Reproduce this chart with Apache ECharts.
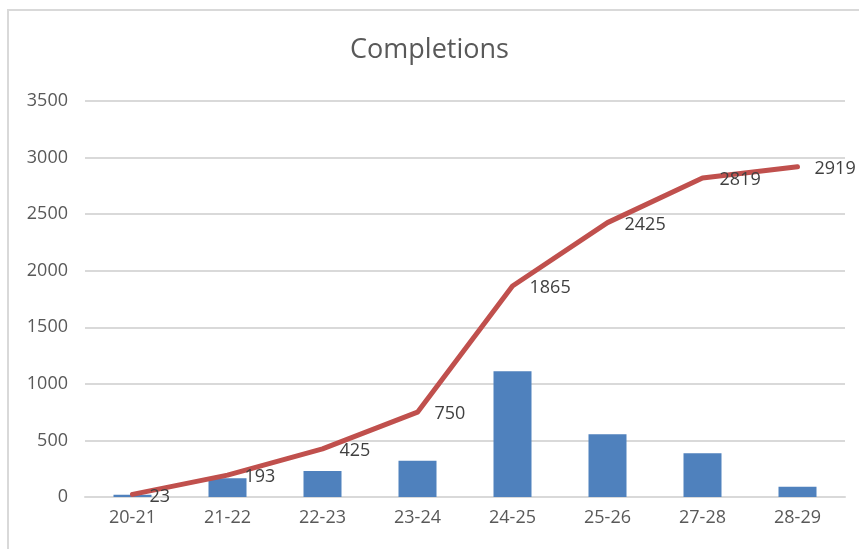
<!DOCTYPE html>
<html>
<head>
<meta charset="utf-8">
<script src="https://cdn.jsdelivr.net/npm/echarts@6/dist/echarts.min.js"></script>
<style>
    html, body {margin: 0; padding: 0; background: #fff;}
    #chart {width: 859px; height: 549px;}
</style>
</head>
<body>
<div id="chart"></div>
<script>
var categories = ['20-21', '21-22', '22-23', '23-24', '24-25', '25-26', '27-28', '28-29'];
var yearly = [20, 165, 230, 320, 1112, 555, 387, 90];
var cumulative = [23, 193, 425, 750, 1865, 2425, 2819, 2919];
var yTicks = [0, 500, 1000, 1500, 2000, 2500, 3000, 3500];

var font = 'Open Sans';
var chart = echarts.init(document.getElementById('chart'));

var option = {
    backgroundColor: '#fff',
    animation: false,
    title: {
        text: 'Completions',
        left: 'center',
        top: 32,
        textStyle: {
            fontFamily: font,
            fontSize: 27,
            fontWeight: 'normal',
            color: '#595959'
        }
    },
    graphic: [{
        type: 'polyline',
        shape: {points: [[8, 560], [8, 10], [870, 10]]},
        style: {stroke: '#d9d9d9', lineWidth: 2, fill: null}
    }],
    grid: {left: 85, right: 14, top: 101, bottom: 52},
    xAxis: {
        type: 'category',
        data: categories,
        axisTick: {show: false},
        axisLine: {lineStyle: {color: '#d9d9d9', width: 2}},
        axisLabel: {fontFamily: font, fontSize: 18, color: '#595959', margin: 12}
    },
    yAxis: {
        type: 'value',
        min: yTicks[0],
        max: yTicks[yTicks.length - 1],
        interval: 500,
        axisLine: {show: false},
        axisTick: {show: false},
        splitLine: {lineStyle: {color: '#d9d9d9', width: 2}},
        axisLabel: {
            fontFamily: font, fontSize: 18, color: '#595959', margin: 17,
            formatter: function (v) { return String(v); }
        }
    },
    series: [
        {
            name: 'Yearly',
            type: 'bar',
            data: yearly,
            barWidth: '40%',
            itemStyle: {color: '#4f81bd'}
        },
        {
            name: 'Cumulative',
            type: 'line',
            data: cumulative,
            symbol: 'circle',
            symbolSize: 2,
            showSymbol: true,
            showAllSymbol: true,
            itemStyle: {color: 'rgba(192,80,77,0)', borderWidth: 0},
            lineStyle: {color: '#c0504d', width: 5, cap: 'round', join: 'round'},
            label: {
                show: true,
                position: 'right',
                distance: 16,
                offset: [0, 2],
                fontFamily: font,
                fontSize: 18,
                color: '#404040'
            },
            z: 5
        }
    ]
};

chart.setOption(option);
</script>
</body>
</html>
